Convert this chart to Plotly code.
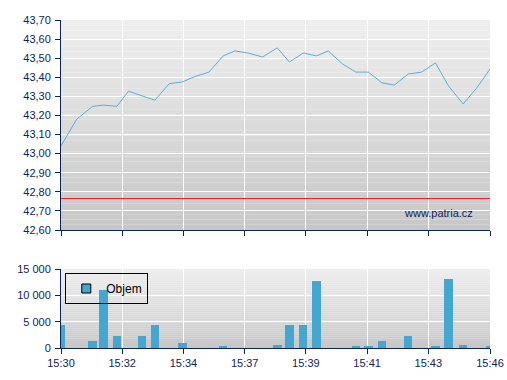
import pandas as pd
import plotly.graph_objects as go
from plotly.subplots import make_subplots

# ---- data ----
times = ["15:30:00", "15:30:35", "15:31:11", "15:31:35", "15:32:05", "15:32:31", "15:33:01",
         "15:33:30", "15:34:02", "15:34:32", "15:35:00", "15:35:31", "15:36:03", "15:36:29",
         "15:36:59", "15:37:31", "15:38:04", "15:38:31", "15:39:02", "15:39:32", "15:39:58",
         "15:40:30", "15:41:00", "15:41:28", "15:41:58", "15:42:26", "15:42:57", "15:43:27",
         "15:43:58", "15:44:27", "15:45:00", "15:45:30", "15:46:00"]
price = [43.04, 43.18, 43.248, 43.254, 43.248, 43.327, 43.303, 43.28, 43.366, 43.376, 43.404,
         43.427, 43.512, 43.538, 43.527, 43.506, 43.554, 43.48, 43.527, 43.512, 43.538, 43.47,
         43.427, 43.427, 43.371, 43.359, 43.417, 43.427, 43.475, 43.355, 43.26, 43.343, 43.443]
volume = [4400, 0, 1400, 11000, 2300, 0, 2300, 4400, 0, 1000, 0, 0, 200, 0, 0, 0, 600, 4400,
          4400, 12700, 0, 0, 200, 200, 1400, 0, 2300, 0, 200, 13100, 600, 0, 400]
prev_close = 42.765
tick_labels = ["15:30", "15:32", "15:34", "15:37", "15:39", "15:41", "15:43", "15:46"]
legend_name = "Objem"
watermark = "www.patria.cz"

DAY = "2024-01-02 "
x = pd.to_datetime([DAY + t for t in times])
t0 = pd.Timestamp(DAY + "15:30:00")
t1 = pd.Timestamp(DAY + "15:46:00")
n_int = len(tick_labels) - 1
tickvals = [t0 + (t1 - t0) * k / n_int for k in range(len(tick_labels))]

NAVY = "#0f2456"
FONT = "Liberation Sans, Arial, sans-serif"

fig = make_subplots(rows=2, cols=1, shared_xaxes=False, vertical_spacing=0)

fig.add_trace(go.Scatter(x=x, y=price, mode="lines", line=dict(color="#5aaed8", width=1),
                         showlegend=False, hoverinfo="skip"), row=1, col=1)
fig.add_trace(go.Scatter(x=[t0, t1], y=[prev_close, prev_close], mode="lines",
                         line=dict(color="#e8242a", width=1), showlegend=False), row=1, col=1)
fig.add_trace(go.Bar(x=x, y=volume, width=19000, marker=dict(color="#45a6cf", line=dict(width=0)),
                     showlegend=False), row=2, col=1)
fig.add_trace(go.Scatter(x=[None], y=[None], mode="markers", name=legend_name,
                         marker=dict(symbol="square", size=9, color="#45a6cf",
                                     line=dict(color="black", width=1)),
                         showlegend=True), row=2, col=1)

H = 380
top, bot = 20, 32
ph = H - top - bot
d1 = (348 - 230) / ph
d2 = (348 - 269) / ph

axis_common = dict(
    showline=True, linecolor=NAVY, linewidth=1, mirror=False,
    ticks="outside", ticklen=5, tickcolor=NAVY, tickwidth=1,
    showgrid=True, gridcolor="white", gridwidth=1, automargin=False,
    tickfont=dict(family=FONT, size=11, color=NAVY), zeroline=False,
)

fig.update_xaxes(axis_common, type="date", range=[t0, t1], tickvals=tickvals,
                 ticktext=tick_labels)
fig.update_xaxes(showticklabels=False, row=1, col=1)
fig.update_xaxes(ticklabelstandoff=0, row=2, col=1)
fig.update_yaxes(axis_common, ticklabelstandoff=2)
fig.update_yaxes(domain=[d1, 1], range=[42.6, 43.7], dtick=0.1, tickformat=".2f", row=1, col=1)
fig.update_yaxes(domain=[0, d2], range=[0, 15000], dtick=5000, tickformat=",d", row=2, col=1)

# gradient backgrounds
shapes = []
N = 40
for yref, xref, c_top, c_bot in [("y domain", "x domain", 238, 199), ("y2 domain", "x2 domain", 238, 199)]:
    for i in range(N):
        f = (i + 0.5) / N
        c = round(c_top + (c_bot - c_top) * f)
        shapes.append(dict(type="rect", xref=xref, yref=yref, x0=0, x1=1,
                           y0=1 - (i + 1) / N, y1=1 - i / N, layer="below",
                           line=dict(width=0), fillcolor=f"rgb({c},{c},{c})"))
fig.update_layout(shapes=shapes)

fig.add_annotation(text=watermark, xref="x domain", yref="y domain", x=0.965, y=0.08,
                   xanchor="right", yanchor="middle", showarrow=False,
                   font=dict(family=FONT, size=11, color=NAVY))

fig.update_layout(
    width=507, height=380,
    margin=dict(l=61, r=17, t=top, b=bot, autoexpand=False),
    paper_bgcolor="white", plot_bgcolor="rgba(0,0,0,0)",
    separators=", ",
    bargap=0,
    showlegend=True,
    legend=dict(x=0.01, y=(348 - 273) / ph, xanchor="left", yanchor="top",
                bgcolor="rgba(0,0,0,0)",
                bordercolor="black", borderwidth=1, itemwidth=30,
                font=dict(family=FONT, size=12, color="black"), tracegroupgap=0),
    font=dict(family=FONT),
)

fig.write_html("out.html")
